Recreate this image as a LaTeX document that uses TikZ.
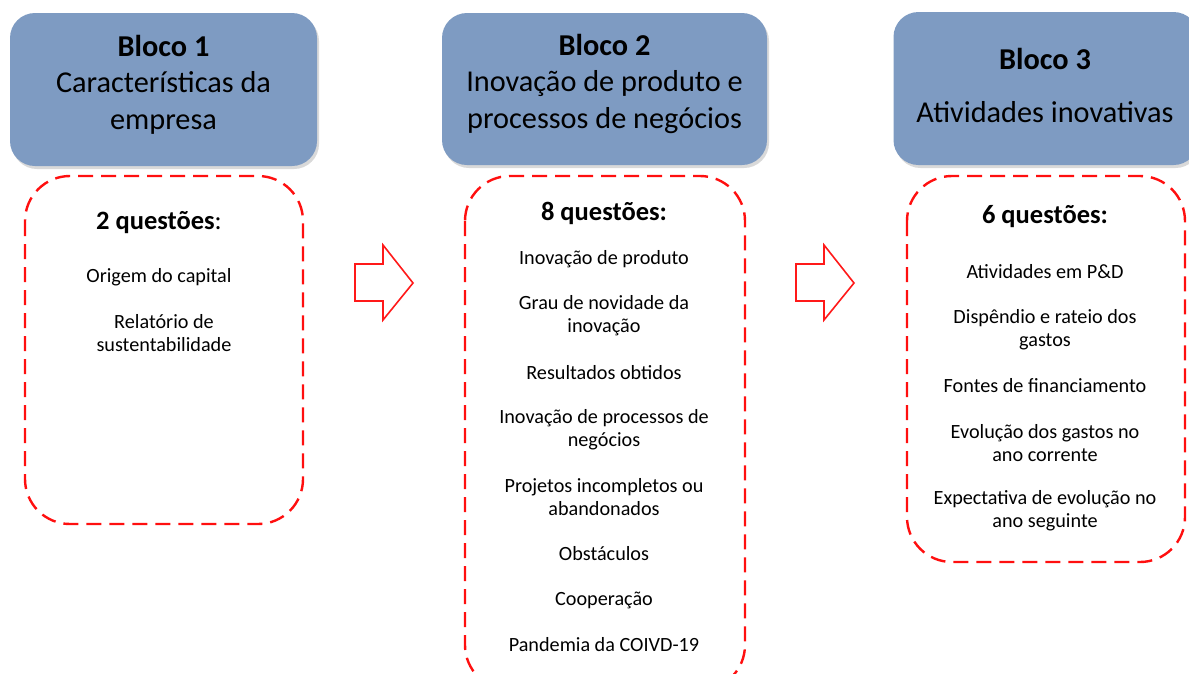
\documentclass[tikz,border=0pt]{standalone}
\usepackage{fontspec}
\setmainfont{Carlito}
\usetikzlibrary{shadows,positioning}
\definecolor{blocoblue}{RGB}{126,155,194}
\definecolor{dashred}{RGB}{255,15,15}
\newcommand{\hdfont}{\fontsize{30.3}{36.5}\selectfont}
\newcommand{\itfont}{\fontsize{20.2}{23}\selectfont}
\newcommand{\qfont}{\fontsize{26.5}{30}\selectfont\bfseries}

\begin{document}
\begin{tikzpicture}[x=1pt,y=-1pt,
    bloco/.style={draw=none,fill=blocoblue,rounded corners=25pt,align=center,
      font=\hdfont,drop shadow={shadow xshift=2pt,shadow yshift=-3pt,opacity=.3,fill=gray}},
    lista/.style={draw=dashred,line width=2.4pt,dash pattern=on 15pt off 8pt,
      rounded corners=45pt},
    item/.style={align=center,font=\itfont,yshift=-2pt},
    titulo/.style={align=center,font=\hdfont,yshift=-1.5pt},
    seta/.style={draw=red!90,line width=1.6pt,fill=white}]
  \useasboundingbox (0,0) rectangle (1189,673);

  % cabecalhos
  \node[bloco,minimum width=307pt,minimum height=153pt] (b1) at (163.5,89.5) {};
  \node[bloco,minimum width=325pt,minimum height=152pt] (b2) at (604.5,89) {};
  \node[bloco,minimum width=305pt,minimum height=153pt] (b3) at (1046,88.5) {};
  \node[titulo] (t1) at (163.5,83) {\textbf{Bloco 1}\\Características da\\empresa};
  \node[titulo] (t2) at (604.5,82) {\textbf{Bloco 2}\\Inovação de produto e\\processos de negócios};
  \node[titulo] (t3) at (1045,84) {\textbf{Bloco 3}\\[17pt]Atividades inovativas};

  % caixas tracejadas
  \draw[lista] (25,176) rectangle (303,524);
  \draw[lista] (465,176) rectangle (745,690);
  \draw[lista] (907,176) rectangle (1185,562);

  % setas
  \draw[seta] (355,264) -- (383,264) -- (383,245) -- (413,283) -- (383,320) -- (383,301) -- (355,301) -- cycle;
  \draw[seta] (796,264) -- (824,264) -- (824,245) -- (854,283) -- (824,320) -- (824,301) -- (796,301) -- cycle;

  % bloco 1
  \node[item,font=\qfont] (q1) at (159,221) {2 questões\textmd{:}};
  \node[item] (o1) at (159,275) {Origem do capital};
  \node[item] (r1) at (164,331.5) {Relatório de\\sustentabilidade};

  % bloco 2
  \node[item,font=\qfont] (q2) at (604,211) {8 questões:};
  \node[item] (i21) at (604,257) {Inovação de produto};
  \node[item] (i22) at (604,313.5) {Grau de novidade da\\inovação};
  \node[item] (i23) at (604,371) {Resultados obtidos};
  \node[item] (i24) at (604,427.5) {Inovação de processos de\\negócios};
  \node[item] (i25) at (604,495.5) {Projetos incompletos ou\\abandonados};
  \node[item] (i26) at (604,552) {Obstáculos};
  \node[item] (i27) at (604,598) {Cooperação};
  \node[item] (i28) at (604,643) {Pandemia da COIVD-19};

  % bloco 3
  \node[item,font=\qfont] (q3) at (1045,215) {6 questões:};
  \node[item] (i31) at (1045,270) {Atividades em P\&D};
  \node[item] (i32) at (1045,327.5) {Dispêndio e rateio dos\\gastos};
  \node[item] (i33) at (1045,384) {Fontes de financiamento};
  \node[item] (i34) at (1045,441.5) {Evolução dos gastos no\\ano corrente};
  \node[item] (i35) at (1045,508.5) {Expectativa de evolução no\\ano seguinte};
\end{tikzpicture}
\end{document}
